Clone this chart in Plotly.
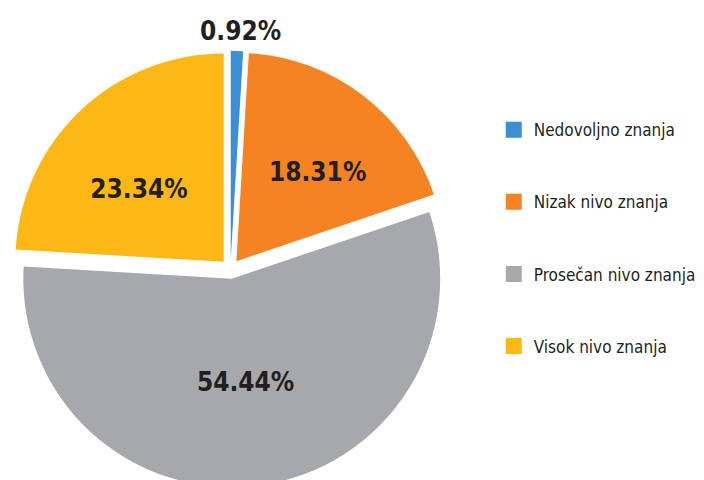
import plotly.graph_objects as go

labels = ["Nedovoljno znanja", "Nizak nivo znanja", "Prosečan nivo znanja", "Visok nivo znanja"]
values = [0.92, 18.31, 54.44, 23.34]
colors = ["#3B8FD4", "#F58322", "#A7A8AC", "#FDB815"]
text_positions = ["none", "inside", "inside", "inside"]
text_templates = ["", "\u00a0<br>%{value:.2f}%", "%{value:.2f}%", "\u00a0<br>%{value:.2f}%"]

FONT = "Liberation Sans Narrow, DejaVu Sans Condensed, Arial Narrow, sans-serif"

fig = go.Figure()
fig.add_trace(go.Pie(
    labels=labels,
    values=values,
    sort=False,
    direction="clockwise",
    rotation=0,
    pull=[0.047] * len(values),
    marker=dict(colors=colors, line=dict(width=0)),
    texttemplate=text_templates,
    textposition=text_positions,
    insidetextorientation="horizontal",
    textfont=dict(family=FONT, size=26, color="#231F20", weight="bold"),
    hoverinfo="label+value",
    showlegend=False,
    domain=dict(x=[0.006, 0.626], y=[0, 1]),
))

# label of the smallest slice sits above the pie, centred over it
fig.add_annotation(
    text=f"{values[0]:.2f}%", xref="paper", yref="paper",
    x=0.33, y=1.043, xanchor="center", yanchor="middle", showarrow=False,
    font=dict(family=FONT, size=26, color="#231F20", weight="bold"),
)

for i, (lab, col) in enumerate(zip(labels, colors)):
    fig.add_trace(go.Scatter(
        x=[None], y=[None], mode="markers", name=lab,
        marker=dict(symbol="square", size=16, color=col),
        legendgroup=f"g{i}", showlegend=True,
    ))

fig.update_layout(
    width=704, height=480,
    margin=dict(l=0, r=0, t=42, b=0, autoexpand=False),
    paper_bgcolor="white", plot_bgcolor="white",
    xaxis=dict(visible=False), yaxis=dict(visible=False),
    legend=dict(
        x=0.69, y=0.858, xanchor="left", yanchor="top",
        font=dict(family=FONT, size=17, color="#231F20"),
        tracegroupgap=47, itemsizing="trace",
        bgcolor="rgba(0,0,0,0)",
    ),
)

fig.write_html("out.html")
